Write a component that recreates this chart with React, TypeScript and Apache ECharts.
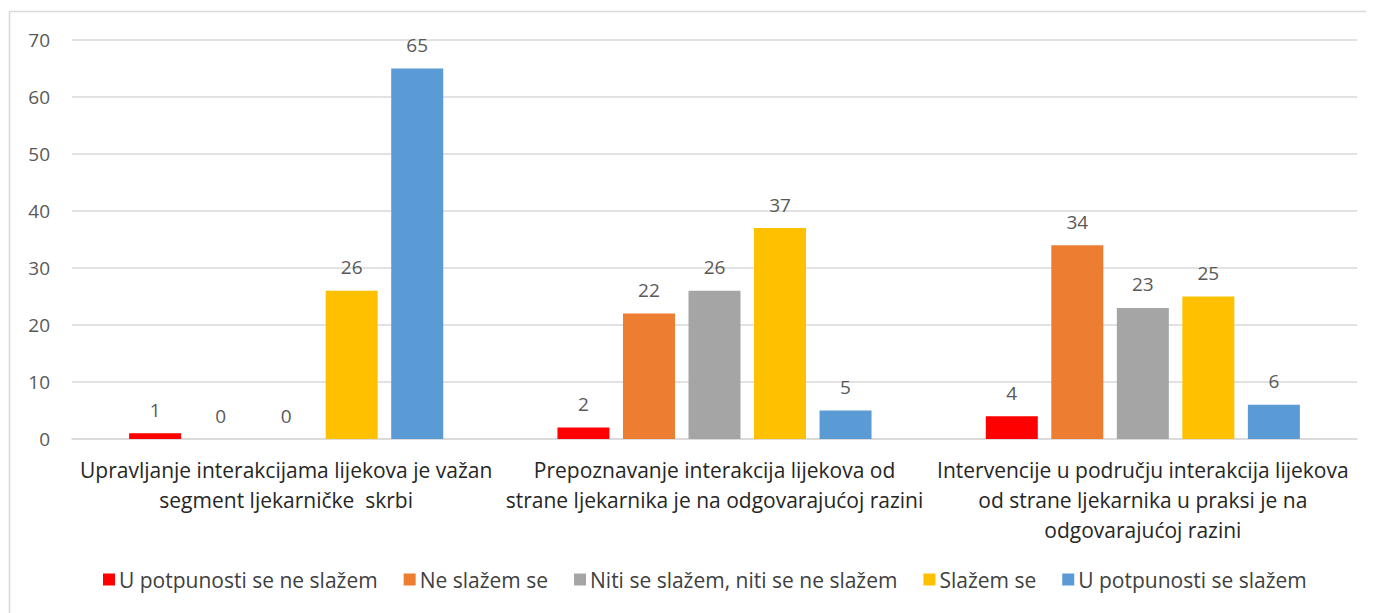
import React, { useEffect, useRef } from "react";
import * as echarts from "echarts";

const categories = [
  "Upravljanje interakcijama lijekova je važan\nsegment ljekarničke  skrbi",
  "Prepoznavanje interakcija lijekova od\nstrane ljekarnika je na odgovarajućoj razini",
  "Intervencije u području interakcija lijekova\nod strane ljekarnika u praksi je na\nodgovarajućoj razini",
];
const seriesNames = [
  "U potpunosti se ne slažem",
  "Ne slažem se",
  "Niti se slažem, niti se ne slažem",
  "Slažem se",
  "U potpunosti se slažem",
];
const seriesColors = ["#FF0000", "#ED7D31", "#A5A5A5", "#FFC000", "#5B9BD5"];
const values = [
  [1, 2, 4],
  [0, 22, 34],
  [0, 26, 23],
  [26, 37, 25],
  [65, 5, 6],
];
const yMin = 0;
const yMax = 70;
const yInterval = 10;

const FONT = "'Open Sans', 'Liberation Sans', sans-serif";

export default function App() {
  const ref = useRef<HTMLDivElement>(null);
  useEffect(() => {
    if (!ref.current) return;
    const chart = echarts.init(ref.current, null, { renderer: "svg" });
    chart.setOption({
      animation: false,
      backgroundColor: "#ffffff",
      textStyle: { fontFamily: FONT },
      graphic: [
        {
          type: "rect",
          shape: { x: 1.5, y: 3.5, width: 1400, height: 700 },
          style: { fill: "none", stroke: "#D9D9D9", lineWidth: 1.5 },
          silent: true,
          z: -1,
        },
      ],
      grid: { left: 64, right: 17, top: 32, bottom: 174, containLabel: false },
      legend: {
        bottom: 18,
        left: 90,
        itemWidth: 12,
        itemHeight: 12,
        itemGap: 26,
        icon: "rect",
        textStyle: { fontFamily: FONT, fontSize: 21, color: "#404040", padding: [0, 0, 0, -1] },
        data: seriesNames,
      },
      xAxis: {
        type: "category",
        data: categories,
        axisLine: { lineStyle: { color: "#D9D9D9", width: 1.5 } },
        axisTick: { show: false },
        axisLabel: {
          interval: 0,
          fontFamily: FONT,
          fontSize: 21,
          color: "#262626",
          lineHeight: 30,
          margin: 16,
          align: "center",
        },
      },
      yAxis: {
        type: "value",
        min: yMin,
        max: yMax,
        interval: yInterval,
        axisLine: { show: false },
        axisTick: { show: false },
        splitLine: { lineStyle: { color: "#D9D9D9", width: 1.5 } },
        axisLabel: { fontFamily: FONT, fontSize: 19, color: "#595959", margin: 22 },
      },
      series: seriesNames.map((name, i) => ({
        name,
        type: "bar",
        data: values[i],
        barWidth: 52,
        barGap: "26%",
        itemStyle: { color: seriesColors[i] },
        label: {
          show: true,
          position: "top",
          distance: 14,
          fontFamily: FONT,
          fontSize: 19,
          color: "#595959",
        },
      })),
    });
    return () => chart.dispose();
  }, []);
  return <div ref={ref} style={{ width: 1366, height: 605 }} />;
}
